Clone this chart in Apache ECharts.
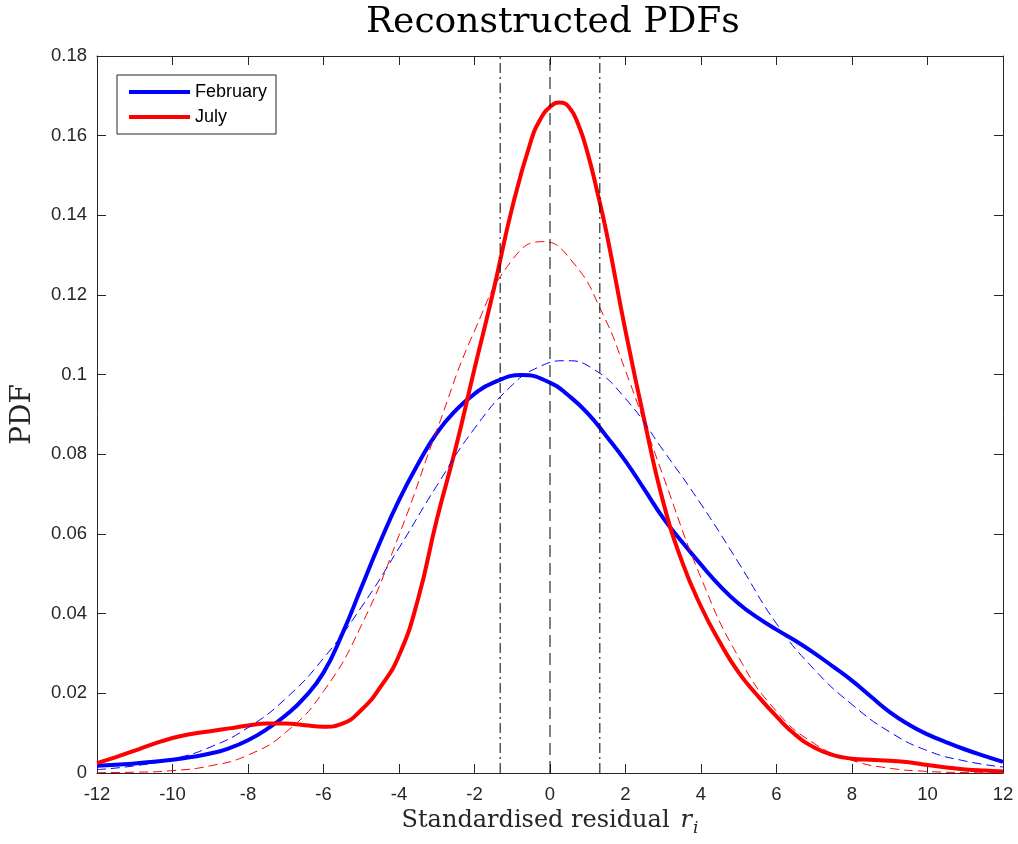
<!DOCTYPE html>
<html>
<head>
<meta charset="utf-8">
<script src="https://cdn.jsdelivr.net/npm/echarts@6/dist/echarts.min.js"></script>
<style>html,body{margin:0;padding:0;background:#fff;}#c{width:1018px;height:844px;}</style>
</head>
<body>
<div id="c"></div>
<script>
// ---- data ----
const febX = [-12,-11.5,-11,-10.5,-10,-9.5,-9,-8.5,-8,-7.5,-7,-6.5,-6,-5.5,-5,-4.5,-4,-3.5,-3,-2.5,-2,-1.5,-0.75,0,0.5,1,1.5,2,2.5,3,3.5,4,4.5,5,5.5,6,6.5,7,7.5,8,8.5,9,9.5,10,10.5,11,11.5,12];
const febY = [0.0018,0.0021,0.0024,0.0028,0.0033,0.004,0.0049,0.0062,0.0082,0.011,0.0145,0.019,0.0252,0.035,0.0465,0.058,0.0685,0.0775,0.0853,0.091,0.0952,0.098,0.0999,0.098,0.0947,0.0903,0.0845,0.0783,0.0712,0.064,0.058,0.0523,0.047,0.0425,0.039,0.036,0.0332,0.0301,0.0267,0.0232,0.0192,0.0153,0.0122,0.0097,0.0077,0.0059,0.0043,0.0028];

const julX = [-12,-11.5,-11,-10.5,-10,-9.5,-9,-8.5,-8,-7.5,-7,-6.5,-6,-5.5,-5,-4.5,-4,-3.5,-3,-2.5,-2,-1.5,-1,-0.5,-0.25,0,0.25,0.5,0.75,1,1.25,1.5,2,2.5,3,3.5,4,4.5,5,5.5,6,6.5,7,7.5,8,8.5,9,9.5,10,10.5,11,11.5,12];
const julY = [0.0025,0.004,0.0056,0.0073,0.0088,0.0098,0.0105,0.0112,0.0119,0.0124,0.0124,0.012,0.0116,0.0124,0.0158,0.0215,0.0295,0.0435,0.0636,0.0815,0.1015,0.121,0.142,0.1588,0.1642,0.1672,0.1683,0.1672,0.1628,0.1555,0.146,0.1355,0.111,0.0885,0.068,0.053,0.0418,0.0328,0.0252,0.0194,0.0142,0.0096,0.0064,0.0045,0.0036,0.0033,0.0031,0.0027,0.002,0.0014,0.0009,0.0006,0.0004];

const febFitX = [-12,-11,-10,-9,-8,-7,-6,-5,-4,-3,-2,-1,-0.3,0.4,1.1,2,3,4,5,6,7,8,9,10,11,12];
const febFitY = [0.00085,0.0018,0.0035,0.0065,0.0114,0.0187,0.0288,0.0416,0.0565,0.0721,0.0865,0.0974,0.1019,0.1035,0.1017,0.094,0.081,0.0675,0.0527,0.0375,0.026,0.0172,0.0103,0.0056,0.003,0.0015];

const julFitX = [-12,-11,-10,-9,-8,-7,-6,-5,-4,-3,-2,-1,-0.2,0.6,1.4,2,3,4,5,6,7,8,9,10,11,12];
const julFitY = [0.0001,0.0002,0.0006,0.0018,0.0045,0.0102,0.0205,0.037,0.0597,0.086,0.111,0.1288,0.1334,0.1283,0.1152,0.101,0.0745,0.049,0.029,0.0155,0.0074,0.0032,0.0012,0.0004,0.0001,0.0];

const refLines = [-1.32, 0, 1.32];
const xTicks = {min: -12, max: 12, interval: 2};
const yTicks = {min: 0, max: 0.18, interval: 0.02};
const seriesNames = ['February', 'July'];

// ---- chart ----
const pairs = (xs, ys) => xs.map((x, i) => [x, ys[i]]);
const axisCol = '#262626';
const sans = 'Liberation Sans';
const serif = 'DejaVu Serif';

const chart = echarts.init(document.getElementById('c'), null, {renderer: 'canvas'});

function xAx(pos, labels) {
  return {
    type: 'value', position: pos, min: xTicks.min, max: xTicks.max, interval: xTicks.interval,
    axisLine: {show: true, onZero: false, lineStyle: {color: axisCol, width: 1}},
    axisTick: {show: true, inside: true, length: 9, lineStyle: {color: axisCol}},
    axisLabel: {show: labels, color: axisCol, fontFamily: sans, fontSize: 18.5, margin: 12},
    splitLine: {show: false}
  };
}
function yAx(pos, labels) {
  return {
    type: 'value', position: pos, min: yTicks.min, max: yTicks.max, interval: yTicks.interval,
    axisLine: {show: true, onZero: false, lineStyle: {color: axisCol, width: 1}},
    axisTick: {show: true, inside: true, length: 9, lineStyle: {color: axisCol}},
    axisLabel: {show: labels, color: axisCol, fontFamily: sans, fontSize: 18.5, margin: 10},
    splitLine: {show: false}
  };
}

const xBottom = xAx('bottom', true);
xBottom.name = '{a|Standardised residual}{r|r}{i|i}';
xBottom.nameLocation = 'middle';
xBottom.nameGap = 29;
xBottom.nameTextStyle = {
  rich: {
    a: {fontFamily: serif, fontSize: 24, color: '#262626'},
    r: {fontFamily: serif, fontStyle: 'italic', fontSize: 24, color: '#262626', padding: [0, 0, 0, 11]},
    i: {fontFamily: serif, fontStyle: 'italic', fontSize: 17, color: '#262626', padding: [15, 0, 0, 1]}
  }
};
const yLeft = yAx('left', true);
yLeft.name = 'PDF';
yLeft.nameLocation = 'middle';
yLeft.nameRotate = 90;
yLeft.nameGap = 60;
yLeft.nameTextStyle = {fontFamily: serif, fontSize: 28, color: '#262626'};

const vLines = refLines.map((x) => ({
  type: 'line', symbol: 'none', silent: true, z: 5,
  data: [[x, yTicks.min], [x, yTicks.max]],
  lineStyle: {color: '#000', width: 1, type: x === 0 ? [12, 6] : [10, 4, 2, 4]}
}));

chart.setOption({
  animation: false,
  backgroundColor: '#fff',
  title: {
    text: 'Reconstructed PDFs', left: 366, top: 5, padding: 0,
    textStyle: {fontFamily: serif, fontSize: 36, fontWeight: 'normal', color: '#000'}
  },
  grid: {left: 97, right: 15, top: 56, bottom: 71, containLabel: false, outerBoundsMode: 'none'},
  legend: {
    data: seriesNames, orient: 'vertical', left: 117, top: 75,
    icon: 'rect', itemWidth: 61, itemHeight: 4, itemGap: 7,
    padding: [8, 9, 8, 12],
    borderColor: axisCol, borderWidth: 1, backgroundColor: '#fff',
    textStyle: {fontFamily: sans, fontSize: 18, color: '#000', lineHeight: 18}
  },
  xAxis: [xBottom, xAx('top', false)],
  yAxis: [yLeft, yAx('right', false)],
  series: [
    {name: seriesNames[0], type: 'line', symbol: 'none', smooth: 0.5, data: pairs(febX, febY),
     lineStyle: {color: '#0000ff', width: 4}, itemStyle: {color: '#0000ff'}, z: 3},
    {name: seriesNames[1], type: 'line', symbol: 'none', smooth: 0.5, data: pairs(julX, julY),
     lineStyle: {color: '#ff0000', width: 4}, itemStyle: {color: '#ff0000'}, z: 3},
    {name: 'February fit', type: 'line', symbol: 'none', smooth: 0.5, data: pairs(febFitX, febFitY),
     lineStyle: {color: '#0000ff', width: 1, type: [9, 5]}, z: 4},
    {name: 'July fit', type: 'line', symbol: 'none', smooth: 0.5, data: pairs(julFitX, julFitY),
     lineStyle: {color: '#ff0000', width: 1, type: [9, 5]}, z: 4}
  ].concat(vLines)
});
</script>
</body>
</html>
